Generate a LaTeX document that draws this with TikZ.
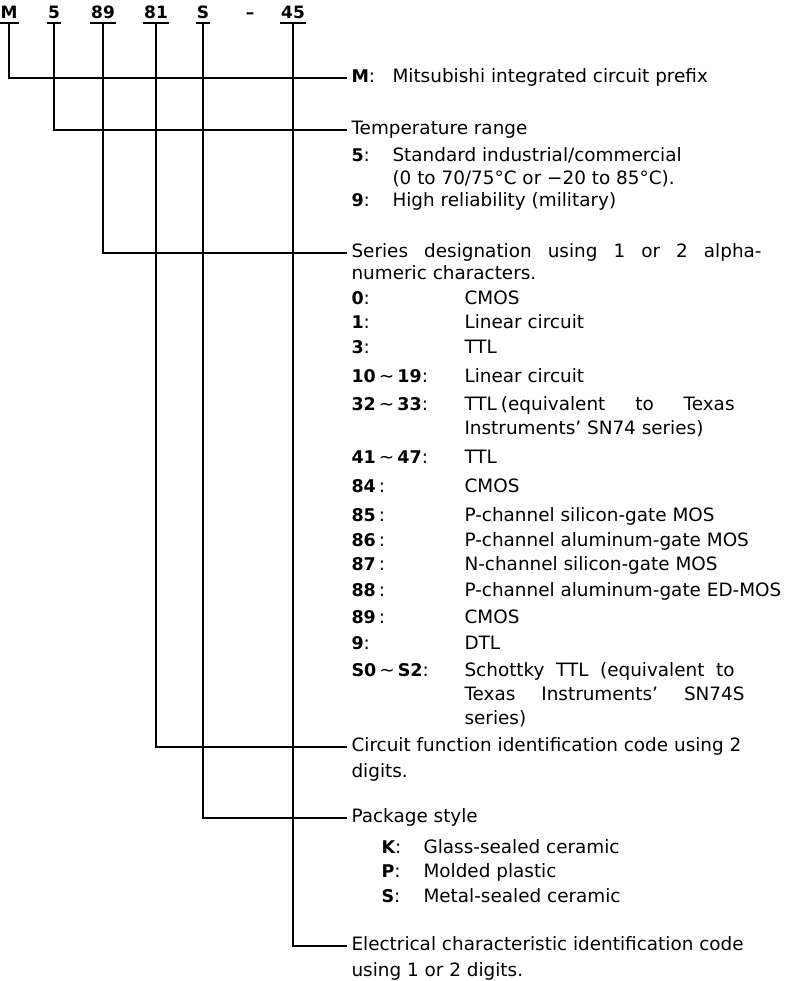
\documentclass[tikz,border=0pt]{standalone}
\usepackage{fontspec}
\setmainfont{DejaVu Sans}
\newfontfamily\codefont{DejaVu Sans}[UprightFont=* Bold]
\newfontfamily\symfont{DejaVu Sans}
\usetikzlibrary{positioning}

\newcommand{\code}[1]{{\codefont\fontsize{17.5}{20}\selectfont #1}}
\newcommand{\tld}{{\symfont\,\char"223C\,}}
\newcommand{\key}[2]{\makebox[#1][l]{#2}}

\begin{document}
\begin{tikzpicture}[
    x=1pt, y=-1pt,
    line width=1.1pt,
    code top/.style={font=\codefont\fontsize{17}{20}\selectfont, anchor=south, inner xsep=0.5pt, inner ysep=3.5pt, text depth=0pt},
    uline/.style={line width=1.8pt},
    lbl/.style={anchor=west, inner xsep=4pt, inner ysep=0pt, text height=13pt, text depth=4pt, font=\fontsize{18.4}{22}\selectfont},
    row/.style={lbl}
]
    \useasboundingbox (0,0) rectangle (784,981);

    % part number
    \foreach \n/\x/\t in {cM/9/M, c5/54/5, c89/103/89, c81/156/81, cS/203/S, c45/293/45} {
        \node[code top] (\n) at (\x,23) {\t};
        \draw[uline] (\n.south west) -- (\n.south east);
    }
    \node[code top] (dash) at (250,23) {–};

    % headings
    \node[lbl] (tM) at (347,78) {\key{41pt}{\code{M}:}Mitsubishi integrated circuit prefix};
    \node[lbl] (tTemp) at (347,130) {Temperature range};
    \node[lbl] (tSeries) at (347,253) {\makebox[410pt][s]{Series designation using 1 or 2 alpha-}};
    \node[lbl] (tCirc) at (347,747) {Circuit function identification code using 2};
    \node[lbl] (tPkg) at (347,818) {Package style};
    \node[lbl] (tElec) at (347,946) {Electrical characteristic identification code};

    % temperature range
    \node[row] (t5) at (347,157) {\key{41pt}{\code{5}:}Standard industrial/commercial};
    \node[row] (t5b) at (388,180) {(0 to 70/75°C or −20 to 85°C).};
    \node[row] (t9) at (347,202) {\key{41pt}{\code{9}:}High reliability (military)};

    % series designation
    \node[row] (sb) at (347,275) {numeric characters.};
    \foreach \y/\k/\t in {
        300/{\code{0}:}/CMOS,
        324/{\code{1}:}/Linear circuit,
        349/{\code{3}:}/TTL,
        378/{\code{10}\tld\code{19}:}/Linear circuit,
        459/{\code{41}\tld\code{47}:}/TTL,
        488/{\code{84}\,:}/CMOS,
        517/{\code{85}\,:}/P-channel silicon-gate MOS,
        542/{\code{86}\,:}/P-channel aluminum-gate MOS,
        566/{\code{87}\,:}/N-channel silicon-gate MOS,
        592/{\code{88}\,:}/P-channel aluminum-gate ED-MOS,
        619/{\code{89}\,:}/CMOS,
        645/{\code{9}:}/DTL
    } {
        \node[row] at (347,\y) {\key{113pt}{\k}\t};
    }
    \node[row] (s32) at (347,406) {\key{113pt}{\code{32}\tld\code{33}:}\makebox[270pt][s]{TTL\kern4pt(equivalent to Texas}};
    \node[row] (s32b) at (460,430) {Instruments' SN74 series)};
    \node[row] (sS) at (347,672) {\key{113pt}{\code{S0}\tld\code{S2}:}\makebox[270pt][s]{Schottky TTL (equivalent to}};
    \node[row] (sSb) at (460,696) {\makebox[280pt][s]{Texas Instruments' SN74S}};
    \node[row] (sSc) at (460,720) {series)};

    % circuit function
    \node[row] (cb) at (347,773) {digits.};

    % package style
    \node[row] (pK) at (377,849) {\key{42pt}{\code{K}:}Glass-sealed ceramic};
    \node[row] (pP) at (377,873) {\key{42pt}{\code{P}:}Molded plastic};
    \node[row] (pS) at (377,898) {\key{42pt}{\code{S}:}Metal-sealed ceramic};

    % electrical characteristic
    \node[row] (eb) at (347,972) {using 1 or 2 digits.};

    % leaders
    \draw (cM.south) |- (tM.west);
    \draw (c5.south) |- (tTemp.west);
    \draw (c89.south) |- (tSeries.west);
    \draw (c81.south) |- (tCirc.west);
    \draw (cS.south) |- (tPkg.west);
    \draw (c45.south) |- (tElec.west);
\end{tikzpicture}
\end{document}
